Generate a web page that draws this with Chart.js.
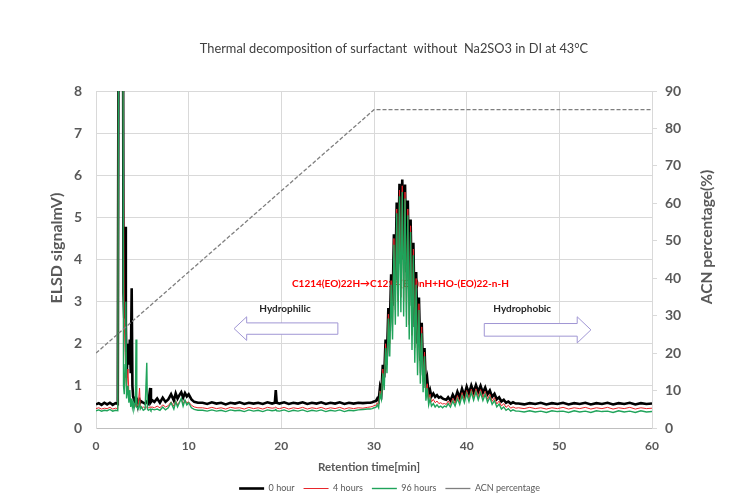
<!DOCTYPE html>
<html>
<head>
<meta charset="utf-8">
<script src="https://cdn.jsdelivr.net/npm/chart.js@4.4.1/dist/chart.umd.min.js"></script>
<style>
html, body { margin: 0; padding: 0; background: #fff; }
canvas { display: block; }
</style>
</head>
<body>
<canvas id="chart" width="755" height="499"></canvas>
<script>
// retention time (min), shared by the three ELSD traces
var retTime = [
  0, 0.3, 0.6, 0.9, 1.2, 1.5, 1.8, 2.1, 2.35,
  2.45, 2.9, 2.97, 3.05, 3.15, 3.22, 3.3, 3.45, 3.55, 3.65, 3.75, 3.85, 3.93, 4.0, 4.1, 4.25, 4.32, 4.4, 4.55, 4.7, 4.78, 4.9, 5.1, 5.3, 5.48, 5.55, 5.65, 5.85, 5.93, 6.05, 6.3,
  6.6, 6.9, 7.2, 7.5, 7.8, 8.1, 8.4, 8.6, 8.8, 9.0, 9.2, 9.4, 9.6, 9.8, 10.0, 10.3, 10.6, 11.0,
  11.5, 12.0, 12.5, 13.0, 13.5, 14.0, 14.5, 15.0, 15.5, 16.0, 16.5, 17.0, 17.5, 18.0, 18.5, 19.0, 19.3, 19.4, 19.5, 19.8,
  20.3, 20.8, 21.3, 21.8, 22.3, 22.8, 23.3, 23.8, 24.3, 24.8, 25.3, 25.8, 26.3, 26.8, 27.3, 27.8, 28.3, 28.8, 29.3,
  29.6, 29.8, 30.0, 30.2, 30.35, 30.5, 30.65, 30.8, 30.95, 31.1, 31.25, 31.4, 31.55, 31.7, 31.85, 32.0, 32.15, 32.3, 32.45, 32.6,
  32.75, 32.9, 33.05, 33.2, 33.35, 33.5, 33.65, 33.8, 33.95, 34.1, 34.25, 34.4, 34.55, 34.7, 34.85, 35.0, 35.15, 35.3, 35.45, 35.6,
  35.75, 35.9, 36.05, 36.2, 36.4, 36.6, 36.8, 37.0, 37.2, 37.4,
  37.6, 37.8, 38.0, 38.25, 38.5, 38.75, 39.0, 39.25, 39.5, 39.75, 40.0, 40.25, 40.5, 40.75, 41.0, 41.25,
  41.5, 41.75, 42.0, 42.25, 42.5, 42.75, 43.0, 43.25, 43.5, 43.75, 44.0, 44.25, 44.5, 44.75, 45.0, 45.3,
  45.6, 46.2, 46.8, 47.4, 48.0, 48.6, 49.2, 49.8, 50.4, 51.0, 51.6, 52.2, 52.8,
  53.4, 54.0, 54.6, 55.2, 55.8, 56.4, 57.0, 57.6, 58.2, 58.8, 59.4, 60.0
];

var signal0h = [
  0.56, 0.59, 0.55, 0.6, 0.56, 0.6, 0.55, 0.59, 0.57,
  12, 12, 3.2, 2.6, 4.78, 2.5, 1.2, 2.0, 1.5, 2.1, 1.3, 3.32, 1.0, 0.75, 0.68, 0.62, 0.72, 0.64, 0.6, 0.66, 0.6, 0.63, 0.6, 0.58, 0.62, 0.64, 0.6, 0.95, 0.62, 0.66, 0.62,
  0.7, 0.6, 0.72, 0.62, 0.68, 0.8, 0.65, 0.82, 0.7, 0.78, 0.85, 0.72, 0.83, 0.75, 0.8, 0.68, 0.62, 0.6,
  0.6, 0.57, 0.61, 0.58, 0.6, 0.56, 0.6, 0.58, 0.61, 0.57, 0.6, 0.58, 0.6, 0.57, 0.61, 0.58, 0.6, 0.9, 0.6, 0.58,
  0.61, 0.57, 0.6, 0.58, 0.61, 0.57, 0.6, 0.58, 0.61, 0.57, 0.6, 0.58, 0.61, 0.57, 0.6, 0.58, 0.6, 0.59, 0.6,
  0.6, 0.61, 0.63, 0.64, 0.7, 0.65, 0.97, 0.85, 1.5, 1.2, 2.1, 1.7, 2.85, 2.3, 3.65, 2.9, 4.6, 3.5, 5.35, 3.9,
  5.8, 4.1, 5.9, 4.0, 5.78, 3.7, 5.4, 3.3, 4.95, 2.9, 4.4, 2.4, 3.7, 2.0, 3.1, 1.6, 2.5, 1.25, 1.9, 0.95,
  1.15, 0.8, 0.9, 0.75, 0.82, 0.74, 0.78, 0.72, 0.74, 0.7,
  0.68, 0.67, 0.73, 0.65, 0.79, 0.68, 0.86, 0.72, 0.93, 0.77, 0.98, 0.82, 1.01, 0.85, 1.02, 0.86,
  1.0, 0.84, 0.96, 0.8, 0.89, 0.74, 0.81, 0.68, 0.73, 0.63, 0.67, 0.6, 0.63, 0.58, 0.61, 0.58,
  0.58, 0.56, 0.59, 0.57, 0.6, 0.56, 0.59, 0.57, 0.6, 0.56, 0.59, 0.57, 0.6,
  0.56, 0.59, 0.57, 0.6, 0.56, 0.59, 0.57, 0.6, 0.56, 0.59, 0.57, 0.58
];

var signal4h = [
  0.46, 0.48, 0.45, 0.47, 0.46, 0.49, 0.45, 0.47, 0.46,
  12, 12, 6.0, 2.5, 1.8, 1.2, 0.9, 1.4, 0.8, 0.7, 0.6, 0.62, 0.55, 0.52, 0.56, 0.6, 0.5, 0.58, 0.52, 0.95, 0.5, 0.48, 0.5, 0.47, 0.5, 0.5, 0.48, 0.5, 0.49, 0.5, 0.48,
  0.52, 0.48, 0.55, 0.5, 0.53, 0.62, 0.52, 0.65, 0.55, 0.62, 0.68, 0.58, 0.66, 0.6, 0.62, 0.54, 0.5, 0.48,
  0.48, 0.46, 0.49, 0.46, 0.48, 0.45, 0.49, 0.47, 0.48, 0.45, 0.49, 0.46, 0.48, 0.45, 0.49, 0.47, 0.48, 0.5, 0.47, 0.46,
  0.49, 0.45, 0.48, 0.46, 0.49, 0.45, 0.48, 0.46, 0.49, 0.45, 0.48, 0.46, 0.49, 0.45, 0.48, 0.46, 0.48, 0.47, 0.49,
  0.5, 0.51, 0.53, 0.54, 0.6, 0.55, 0.88, 0.72, 1.4, 1.0, 2.0, 1.5, 2.7, 2.0, 3.5, 2.4, 4.5, 2.8, 5.2, 3.0,
  5.65, 3.1, 5.75, 3.0, 5.6, 2.75, 5.2, 2.45, 4.8, 2.2, 4.25, 1.9, 3.55, 1.55, 2.95, 1.3, 2.4, 1.1, 1.8, 0.85,
  1.05, 0.68, 0.8, 0.62, 0.68, 0.6, 0.64, 0.58, 0.6, 0.57,
  0.58, 0.56, 0.64, 0.56, 0.7, 0.58, 0.77, 0.62, 0.84, 0.66, 0.89, 0.7, 0.92, 0.73, 0.93, 0.74,
  0.91, 0.72, 0.87, 0.68, 0.8, 0.63, 0.72, 0.57, 0.64, 0.52, 0.58, 0.49, 0.54, 0.47, 0.5, 0.47,
  0.48, 0.46, 0.49, 0.46, 0.48, 0.45, 0.48, 0.46, 0.49, 0.45, 0.48, 0.46, 0.49,
  0.45, 0.48, 0.46, 0.49, 0.45, 0.48, 0.46, 0.49, 0.45, 0.48, 0.46, 0.47
];

var signal96h = [
  0.41, 0.43, 0.40, 0.42, 0.41, 0.44, 0.40, 0.42, 0.41,
  12, 12, 1.0, 0.8, 1.5, 3.0, 0.7, 1.0, 0.6, 0.9, 0.5, 0.7, 0.5, 0.6, 0.45, 0.6, 2.1, 0.5, 0.45, 0.6, 0.45, 0.5, 0.42, 0.45, 1.55, 0.45, 0.42, 0.45, 0.42, 0.45, 0.43,
  0.45, 0.42, 0.5, 0.43, 0.48, 0.6, 0.45, 0.62, 0.5, 0.6, 0.7, 0.52, 0.66, 0.55, 0.6, 0.48, 0.44, 0.42,
  0.42, 0.4, 0.43, 0.4, 0.42, 0.39, 0.43, 0.41, 0.42, 0.39, 0.43, 0.4, 0.42, 0.39, 0.43, 0.41, 0.42, 0.44, 0.41, 0.4,
  0.43, 0.39, 0.42, 0.4, 0.43, 0.39, 0.42, 0.4, 0.43, 0.39, 0.42, 0.4, 0.43, 0.39, 0.42, 0.41, 0.43, 0.44, 0.45,
  0.45, 0.46, 0.48, 0.49, 0.55, 0.48, 0.8, 0.68, 1.3, 0.9, 1.9, 1.3, 2.6, 1.7, 3.4, 2.1, 4.35, 2.45, 5.1, 2.65,
  5.5, 2.75, 5.6, 2.65, 5.45, 2.4, 5.05, 2.1, 4.65, 1.85, 4.1, 1.55, 3.4, 1.25, 2.8, 1.05, 2.25, 0.85, 1.7, 0.65,
  0.95, 0.55, 0.7, 0.52, 0.58, 0.5, 0.55, 0.49, 0.52, 0.48,
  0.52, 0.5, 0.58, 0.5, 0.64, 0.52, 0.7, 0.56, 0.77, 0.6, 0.82, 0.63, 0.85, 0.66, 0.86, 0.67,
  0.84, 0.65, 0.8, 0.61, 0.73, 0.56, 0.65, 0.5, 0.57, 0.45, 0.5, 0.42, 0.46, 0.4, 0.43, 0.4,
  0.4, 0.38, 0.41, 0.38, 0.4, 0.37, 0.41, 0.39, 0.4, 0.37, 0.41, 0.38, 0.4,
  0.37, 0.41, 0.39, 0.4, 0.37, 0.41, 0.38, 0.4, 0.37, 0.41, 0.38, 0.39
];

// ACN gradient (right axis)
var acnTime = [0, 30, 60];
var acnPct = [20, 85, 85];

var seriesNames = ['0 hour', '4 hours', '96 hours', 'ACN percentage'];

var chartTitle = 'Thermal decomposition of surfactant  without  Na2SO3 in DI at 43\u00B0C';
var reactionText = 'C1214(EO)22H\u2192C1214(EO)nH+HO-(EO)22-n-H';

var FONT = 'Lato, "Liberation Sans", sans-serif';
var GREY = '#595959';

function points(xs, ys) {
  return xs.map(function (t, i) { return { x: t, y: ys[i] }; });
}

function drawArrow(ctx, xs, ys, a) {
  var tail = xs.getPixelForValue(a.tail);
  var base = xs.getPixelForValue(a.base);
  var tip = xs.getPixelForValue(a.tip);
  var yc = ys.getPixelForValue(a.y);
  var sh = ys.getPixelForValue(a.y - a.shaft) - yc;
  var hh = ys.getPixelForValue(a.y - a.head) - yc;
  ctx.beginPath();
  ctx.moveTo(tail, yc - sh);
  ctx.lineTo(base, yc - sh);
  ctx.lineTo(base, yc - hh);
  ctx.lineTo(tip, yc);
  ctx.lineTo(base, yc + hh);
  ctx.lineTo(base, yc + sh);
  ctx.lineTo(tail, yc + sh);
  ctx.closePath();
  ctx.fillStyle = '#ffffff';
  ctx.fill();
  ctx.strokeStyle = '#a096d4';
  ctx.lineWidth = 1;
  ctx.stroke();
}

var annotate = {
  id: 'annotate',
  beforeDatasetsDraw: function (chart) {
    var ctx = chart.ctx, x = chart.scales.x, y = chart.scales.y;
    ctx.save();
    ctx.textBaseline = 'middle';
    ctx.font = 'bold 10px ' + FONT;
    ctx.fillStyle = '#ff0000';
    ctx.textAlign = 'left';
    ctx.fillText(reactionText, x.getPixelForValue(21.15), y.getPixelForValue(3.42));

    drawArrow(ctx, x, y, { tail: 26.1, base: 16.26, tip: 14.9, y: 2.36, shaft: 0.135, head: 0.28 });
    drawArrow(ctx, x, y, { tail: 41.9, base: 51.93, tip: 53.41, y: 2.33, shaft: 0.15, head: 0.31 });

    ctx.font = 'bold 10px ' + FONT;
    ctx.fillStyle = '#262626';
    ctx.textAlign = 'center';
    ctx.fillText('Hydrophilic', x.getPixelForValue(20.4), y.getPixelForValue(2.82));
    ctx.fillText('Hydrophobic', x.getPixelForValue(46.0), y.getPixelForValue(2.82));
    ctx.restore();
  },
  afterDraw: function (chart) {
    var ctx = chart.ctx;
    ctx.save();
    ctx.textAlign = 'center';
    ctx.textBaseline = 'middle';
    ctx.font = '12.8px ' + FONT;
    ctx.fillStyle = '#404040';
    ctx.fillText(chartTitle, 394, 49);

    ctx.fillStyle = GREY;
    ctx.font = 'bold 11.5px ' + FONT;
    ctx.fillText('Retention time[min]', 369, 467);

    ctx.save();
    ctx.translate(57, 248);
    ctx.rotate(-Math.PI / 2);
    ctx.font = 'bold 16px ' + FONT;
    ctx.fillText('ELSD signalmV)', 0, 0);
    ctx.restore();

    ctx.save();
    ctx.translate(707, 237);
    ctx.rotate(-Math.PI / 2);
    ctx.font = 'bold 15.5px ' + FONT;
    ctx.fillText('ACN percentage(%)', 0, 0);
    ctx.restore();
    ctx.restore();
  }
};

var ctx = document.getElementById('chart').getContext('2d');
new Chart(ctx, {
  type: 'line',
  data: {
    datasets: [{
      label: seriesNames[0],
      data: points(retTime, signal0h),
      borderColor: '#000000',
      borderWidth: 2.6,
      order: 3
    }, {
      label: seriesNames[1],
      data: points(retTime, signal4h),
      borderColor: '#e8262b',
      borderWidth: 1,
      order: 2
    }, {
      label: seriesNames[2],
      data: points(retTime, signal96h),
      borderColor: '#1fa35a',
      borderWidth: 1.4,
      order: 1
    }, {
      label: seriesNames[3],
      data: points(acnTime, acnPct),
      yAxisID: 'y2',
      borderColor: '#7f7f7f',
      borderWidth: 1.3,
      borderDash: [4, 2],
      order: 0
    }]
  },
  options: {
    responsive: false,
    animation: false,
    devicePixelRatio: 1,
    elements: {
      point: { radius: 0, pointStyle: 'line' },
      line: { tension: 0, fill: false }
    },
    layout: { padding: { top: 91, left: 12, right: -12, bottom: -4 } },
    plugins: {
      legend: {
        position: 'bottom',
        labels: {
          usePointStyle: true,
          pointStyle: 'line',
          pointStyleWidth: 25,
          padding: 9,
          color: GREY,
          font: { family: FONT, size: 9 },
          sort: function (a, b) { return a.datasetIndex - b.datasetIndex; }
        }
      },
      tooltip: { enabled: false },
      title: { display: false }
    },
    scales: {
      x: {
        type: 'linear',
        min: 0,
        max: 60,
        ticks: { stepSize: 10, padding: 11, color: GREY, font: { family: FONT, size: 12, weight: 'bold' } },
        grid: { color: '#d9d9d9', drawTicks: false },
        border: { color: '#bfbfbf' },
        afterFit: function (s) { s.height = 47; }
      },
      y: {
        min: 0,
        max: 8,
        ticks: { stepSize: 1, padding: 14, color: GREY, font: { family: FONT, size: 14, weight: 'bold' } },
        grid: { color: '#d9d9d9', drawTicks: false },
        border: { color: '#d9d9d9' },
        afterFit: function (s) { s.width = 84; }
      },
      y2: {
        position: 'right',
        min: 0,
        max: 90,
        ticks: { stepSize: 10, padding: 8, color: GREY, font: { family: FONT, size: 14, weight: 'bold' } },
        grid: { drawOnChartArea: false, color: '#d9d9d9', tickLength: 5 },
        border: { color: '#d9d9d9' },
        afterFit: function (s) { s.width = 115; }
      }
    }
  },
  plugins: [annotate]
});
</script>
</body>
</html>
